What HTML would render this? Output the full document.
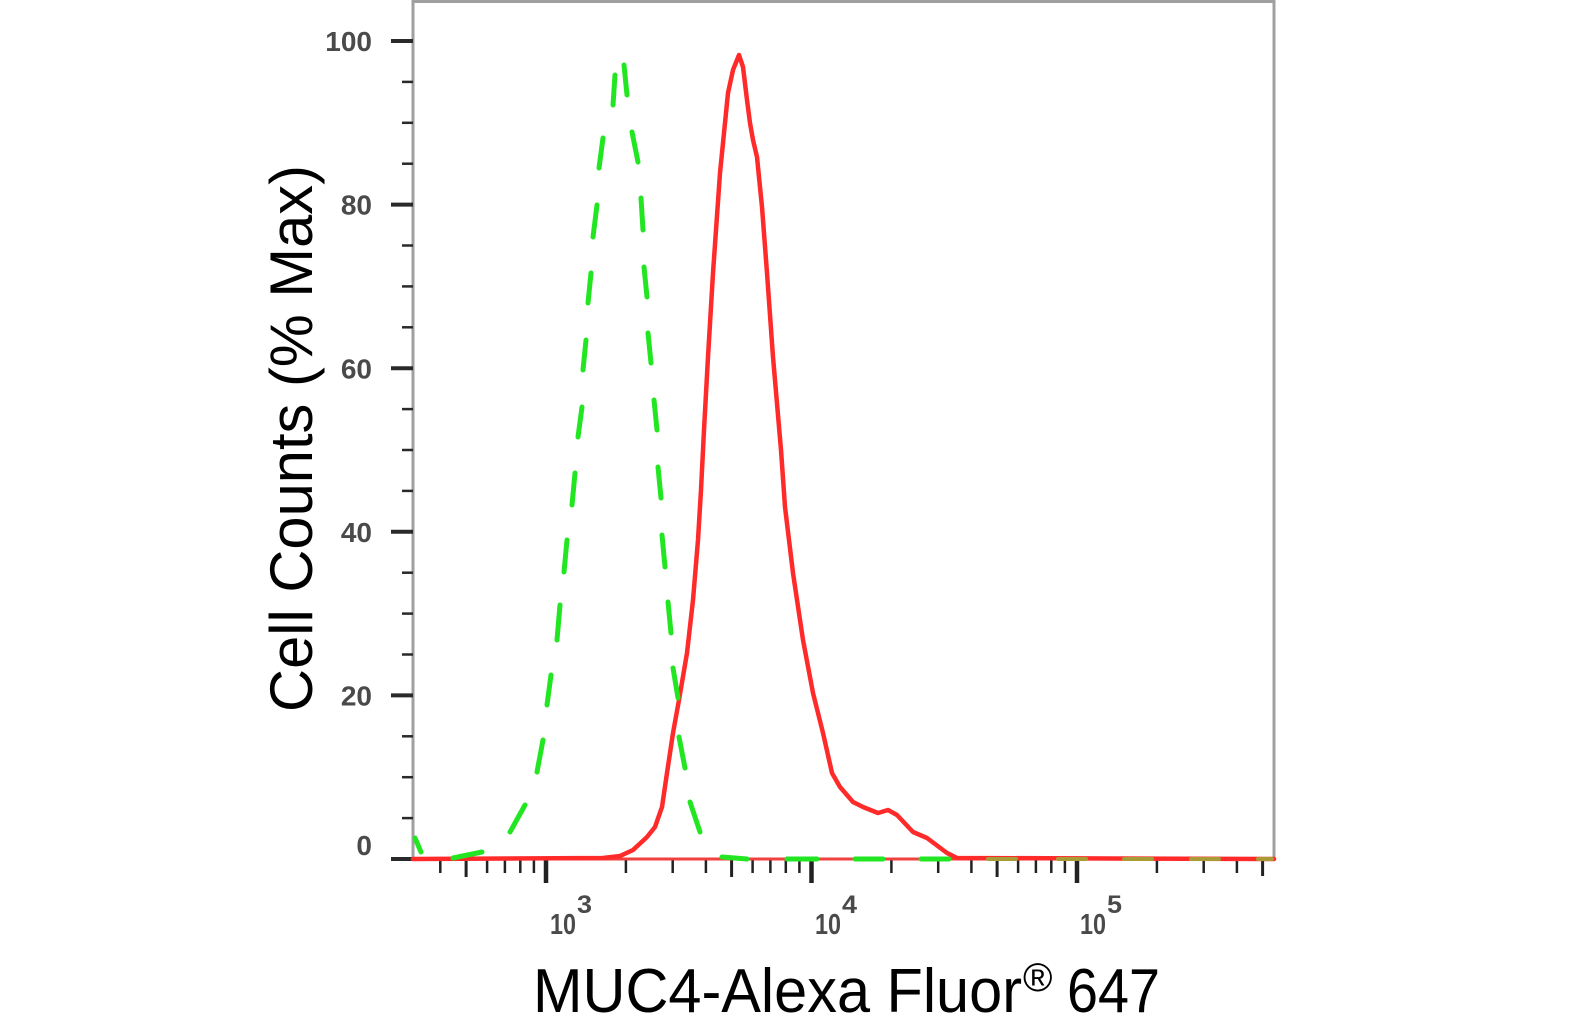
<!DOCTYPE html>
<html><head><meta charset="utf-8"><style>
html,body{margin:0;padding:0;background:#fff;}
svg{display:block;}
</style></head><body>
<svg width="1586" height="1019" viewBox="0 0 1586 1019" xmlns="http://www.w3.org/2000/svg">
<rect width="1586" height="1019" fill="#fff"/>
<!-- frame -->
<g stroke="#a0a0a0" stroke-width="3" fill="none">
<line x1="413" y1="1.5" x2="1274" y2="1.5"/>
<line x1="1274" y1="0" x2="1274" y2="860"/>
<line x1="413" y1="0" x2="413" y2="860"/>
<line x1="413" y1="859" x2="1274" y2="859"/>
</g>
<!-- y ticks -->
<g stroke="#2a2a2a" stroke-linecap="butt">
<g stroke-width="4">
<line x1="391" y1="859" x2="413" y2="859"/>
<line x1="391" y1="695.4" x2="413" y2="695.4"/>
<line x1="391" y1="531.8" x2="413" y2="531.8"/>
<line x1="391" y1="368.2" x2="413" y2="368.2"/>
<line x1="391" y1="204.6" x2="413" y2="204.6"/>
<line x1="391" y1="41" x2="413" y2="41"/>
</g>
<g stroke-width="2.5">
<line x1="402" y1="818.1" x2="413" y2="818.1"/>
<line x1="402" y1="777.2" x2="413" y2="777.2"/>
<line x1="402" y1="736.3" x2="413" y2="736.3"/>
<line x1="402" y1="654.5" x2="413" y2="654.5"/>
<line x1="402" y1="613.6" x2="413" y2="613.6"/>
<line x1="402" y1="572.7" x2="413" y2="572.7"/>
<line x1="402" y1="490.9" x2="413" y2="490.9"/>
<line x1="402" y1="450" x2="413" y2="450"/>
<line x1="402" y1="409.1" x2="413" y2="409.1"/>
<line x1="402" y1="327.3" x2="413" y2="327.3"/>
<line x1="402" y1="286.4" x2="413" y2="286.4"/>
<line x1="402" y1="245.5" x2="413" y2="245.5"/>
<line x1="402" y1="163.7" x2="413" y2="163.7"/>
<line x1="402" y1="122.8" x2="413" y2="122.8"/>
<line x1="402" y1="81.9" x2="413" y2="81.9"/>
</g>
</g>
<!-- y tick labels -->
<g font-family="Liberation Sans, Arial, sans-serif" font-size="28" font-weight="bold" fill="#4a4a4a" text-anchor="end">
<text x="372" y="855">0</text>
<text x="372" y="705.5">20</text>
<text x="372" y="541.9">40</text>
<text x="372" y="378.3">60</text>
<text x="372" y="214.7">80</text>
<text x="372" y="51">100</text>
</g>
<!-- x ticks -->
<g stroke="#222" stroke-linecap="butt">
<g stroke-width="4.5">
<line x1="546" y1="860" x2="546" y2="883"/>
<line x1="811.5" y1="860" x2="811.5" y2="883"/>
<line x1="1077" y1="860" x2="1077" y2="883"/>
</g>
<g stroke-width="3">
<line x1="466.1" y1="860" x2="466.1" y2="877"/>
<line x1="731.6" y1="860" x2="731.6" y2="877"/>
<line x1="997.1" y1="860" x2="997.1" y2="877"/>
<line x1="1262.6" y1="860" x2="1262.6" y2="876"/>
</g>
<g stroke-width="2.5">
<line x1="440.3" y1="860" x2="440.3" y2="873"/>
<line x1="487.1" y1="860" x2="487.1" y2="873"/>
<line x1="504.9" y1="860" x2="504.9" y2="873"/>
<line x1="520.3" y1="860" x2="520.3" y2="873"/>
<line x1="533.9" y1="860" x2="533.9" y2="873"/>
<line x1="625.9" y1="860" x2="625.9" y2="873"/>
<line x1="672.7" y1="860" x2="672.7" y2="873"/>
<line x1="705.9" y1="860" x2="705.9" y2="873"/>
<line x1="752.6" y1="860" x2="752.6" y2="873"/>
<line x1="770.4" y1="860" x2="770.4" y2="873"/>
<line x1="785.8" y1="860" x2="785.8" y2="873"/>
<line x1="799.4" y1="860" x2="799.4" y2="873"/>
<line x1="891.4" y1="860" x2="891.4" y2="873"/>
<line x1="938.2" y1="860" x2="938.2" y2="873"/>
<line x1="971.4" y1="860" x2="971.4" y2="873"/>
<line x1="1018.1" y1="860" x2="1018.1" y2="873"/>
<line x1="1035.9" y1="860" x2="1035.9" y2="873"/>
<line x1="1051.3" y1="860" x2="1051.3" y2="873"/>
<line x1="1064.9" y1="860" x2="1064.9" y2="873"/>
<line x1="1156.9" y1="860" x2="1156.9" y2="873"/>
<line x1="1203.7" y1="860" x2="1203.7" y2="873"/>
<line x1="1236.9" y1="860" x2="1236.9" y2="873"/>
</g>
</g>
<!-- x tick labels -->
<g font-family="Liberation Sans, Arial, sans-serif" font-weight="bold" fill="#4a4a4a">
<text x="550" y="934" font-size="29" textLength="26" lengthAdjust="spacingAndGlyphs">10</text>
<text x="577" y="913" font-size="25" textLength="15" lengthAdjust="spacingAndGlyphs">3</text>
<text x="815" y="934" font-size="29" textLength="26" lengthAdjust="spacingAndGlyphs">10</text>
<text x="842" y="913" font-size="25" textLength="15" lengthAdjust="spacingAndGlyphs">4</text>
<text x="1080" y="934" font-size="29" textLength="26" lengthAdjust="spacingAndGlyphs">10</text>
<text x="1107" y="913" font-size="25" textLength="15" lengthAdjust="spacingAndGlyphs">5</text>
</g>
<!-- axis titles -->
<g font-family="Liberation Sans, Arial, sans-serif" fill="#000">
<text x="533" y="1012" font-size="62" textLength="489" lengthAdjust="spacingAndGlyphs">MUC4-Alexa Fluor</text>
<text x="1023" y="991" font-size="40">®</text>
<text x="1067" y="1012" font-size="62" textLength="93" lengthAdjust="spacingAndGlyphs">647</text>
<text transform="translate(312,712) rotate(-90)" font-size="60" textLength="547" lengthAdjust="spacingAndGlyphs">Cell Counts (% Max)</text>
</g>
<!-- red baseline -->
<line x1="413" y1="859" x2="1274" y2="859" stroke="#ff3030" stroke-width="3" opacity="0.85"/>
<!-- red curve -->
<polyline fill="none" stroke="#ff2a2a" stroke-width="4.5" stroke-linejoin="round" stroke-linecap="round"
points="413,859 603,858 620,856 633,850 647,837 655,827 662,807 667,773 673,733 679,700 687,653 693,600 698,540 701,490 704,430 708,357 713,273 720,173 725,123 728,93 733,70 739,55 743,67 747,100 750,123 753,140 757,157 762,207 767,273 773,357 781,450 785,507 793,573 803,640 813,693 823,733 832,773 840,787 853,802 863,807 878,813 888,810 897,815 913,832 927,838 947,853 957,858 1274,859"/>
<!-- green dashes -->
<g stroke="#22e622" stroke-width="5" stroke-linecap="round" fill="none">
<line x1="415" y1="838" x2="421" y2="852"/>
<line x1="453" y1="858" x2="482" y2="852"/>
<line x1="510" y1="832" x2="525" y2="805"/>
<line x1="537" y1="772" x2="543" y2="740"/>
<line x1="547" y1="705" x2="551" y2="675"/>
<line x1="557" y1="640" x2="560" y2="605"/>
<line x1="564" y1="572" x2="567" y2="540"/>
<line x1="572" y1="505" x2="575" y2="473"/>
<line x1="578" y1="437" x2="582" y2="407"/>
<line x1="583" y1="370" x2="586" y2="340"/>
<line x1="588" y1="303" x2="591" y2="273"/>
<line x1="593" y1="237" x2="597" y2="205"/>
<line x1="599" y1="168" x2="603" y2="138"/>
<line x1="613" y1="105" x2="615" y2="75"/>
<line x1="624" y1="65" x2="627" y2="95"/>
<line x1="632" y1="132" x2="638" y2="162"/>
<line x1="641" y1="198" x2="643" y2="230"/>
<line x1="644" y1="267" x2="647" y2="297"/>
<line x1="648" y1="333" x2="651" y2="363"/>
<line x1="654" y1="400" x2="657" y2="430"/>
<line x1="658" y1="467" x2="661" y2="498"/>
<line x1="662" y1="535" x2="665" y2="567"/>
<line x1="668" y1="602" x2="671" y2="633"/>
<line x1="673" y1="668" x2="678" y2="698"/>
<line x1="679" y1="737" x2="685" y2="768"/>
<line x1="690" y1="802" x2="700" y2="832"/>
<line x1="722" y1="857" x2="747" y2="859"/>
<line x1="787" y1="859" x2="817" y2="859"/>
<line x1="855" y1="859" x2="883" y2="859"/>
<line x1="921" y1="859" x2="949" y2="859"/>
</g>
<g stroke="#a89c36" stroke-width="4" stroke-linecap="round" fill="none">
<line x1="988" y1="859" x2="1016" y2="859"/>
<line x1="1058" y1="859" x2="1086" y2="859"/>
<line x1="1124" y1="859" x2="1152" y2="859"/>
<line x1="1191" y1="859" x2="1219" y2="859"/>
<line x1="1258" y1="859" x2="1272" y2="859"/>
</g>
</svg>
</body></html>
